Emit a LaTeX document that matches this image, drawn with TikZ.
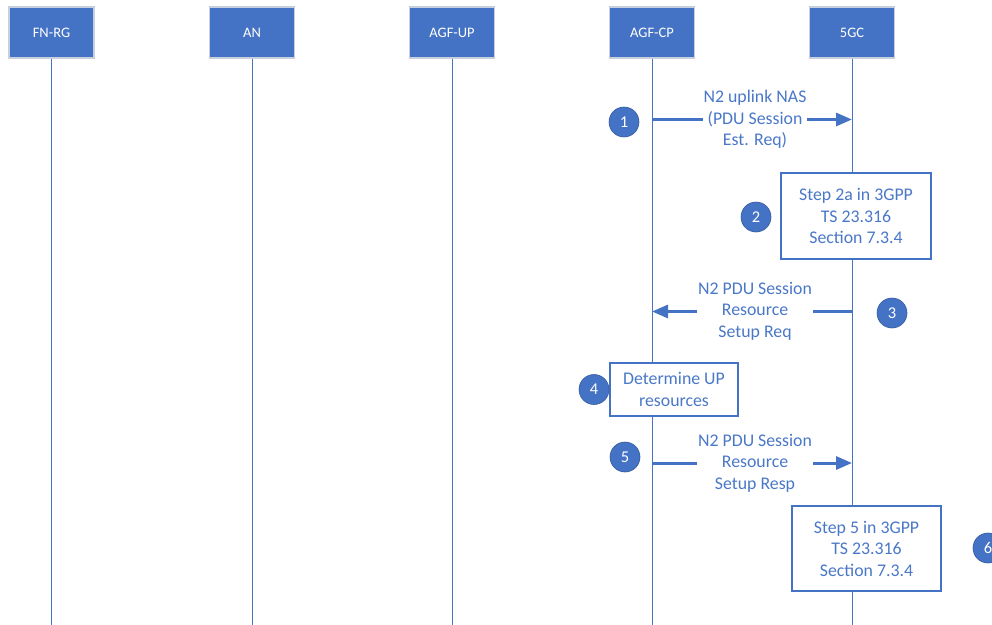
\documentclass[tikz,border=0pt]{standalone}
\usepackage{fontspec}
\setmainfont{Carlito}
\usetikzlibrary{arrows.meta}
\definecolor{vblue}{HTML}{4472C4}
\definecolor{tblue}{HTML}{4A78C8}
\definecolor{hborder}{RGB}{200,208,224}
\tikzset{
  header/.style={draw=hborder, line width=1.4pt, fill=vblue, text=white, minimum width=85pt, minimum height=51pt, inner sep=0pt, font=\fontsize{14.5}{17}\selectfont},
  lifeline/.style={draw=vblue, line width=1pt},
  msg/.style={draw=vblue, line width=3pt, -{Triangle[length=16pt,width=13pt]}},
  msgtext/.style={fill=white, text=tblue, align=center, inner sep=1pt, font=\fontsize{17.8}{21.5}\selectfont},
  stepbox/.style={draw=vblue, line width=1.2pt, fill=white, text=tblue, align=center, inner sep=0pt, font=\fontsize{17.8}{21.5}\selectfont},
  badge/.style={circle, fill=vblue, draw=vblue!80!black, line width=0.6pt, text=white, minimum size=30pt, inner sep=0pt, font=\fontsize{16.5}{18}\selectfont}
}
\begin{document}
\begin{tikzpicture}[x=1pt,y=-1pt]
\useasboundingbox (0,0) rectangle (992,624);
\clip (0,0) rectangle (992,624);
% headers
\node[header] (fnrg) at (51.5,32.5) {FN-RG};
\node[header] (an) at (252,32.5) {AN};
\node[header] (agfup) at (452,32.5) {AGF-UP};
\node[header] (agfcp) at (652,32.5) {AGF-CP};
\node[header] (fgc) at (852,32.5) {5GC};
% bottoms
\coordinate (fnrgb) at (51.5,630);
\coordinate (anb) at (252,630);
\coordinate (agfupb) at (452,630);
\coordinate (agfcpb) at (652,630);
\coordinate (fgcb) at (852,630);
\draw[lifeline] (fnrg.south) -- (fnrgb);
\draw[lifeline] (an.south) -- (anb);
\draw[lifeline] (agfup.south) -- (agfupb);
\draw[lifeline] (agfcp.south) -- (agfcpb);
\draw[lifeline] (fgc.south) -- (fgcb);
% message 1
\coordinate (m1a) at (652,119.5);
\coordinate (m1b) at (852,119.5);
\draw[msg] (m1a) -- (m1b);
\node[msgtext] (t1) at (755,119.5) {N2 uplink NAS\\(PDU Session\\Est. Req)};
\node[badge] (c1) at (624,122) {1};
% step 2 box
\node[stepbox, minimum width=150pt, minimum height=86pt] (b2) at (856,216) {Step 2a in 3GPP\\TS 23.316\\Section 7.3.4};
\node[badge] (c2) at (756,217) {2};
% message 3
\coordinate (m3a) at (852,311.5);
\coordinate (m3b) at (652,311.5);
\draw[msg] (m3a) -- (m3b);
\node[msgtext] (t3) at (755,311) {N2 PDU Session\\Resource\\Setup Req};
\node[badge] (c3) at (892,313) {3};
% step 4 box
\node[stepbox, minimum width=128pt, minimum height=53pt] (b4) at (674,389.5) {Determine UP\\resources};
\node[badge] (c4) at (594,389.5) {4};
% message 5
\coordinate (m5a) at (652,463);
\coordinate (m5b) at (852,463);
\draw[msg] (m5a) -- (m5b);
\node[msgtext] (t5) at (755,463) {N2 PDU Session\\Resource\\Setup Resp};
\node[badge] (c5) at (625,457) {5};
% step 6 box
\node[stepbox, minimum width=149pt, minimum height=85pt] (b6) at (866.5,548.5) {Step 5 in 3GPP\\TS 23.316\\Section 7.3.4};
\node[badge] (c6) at (988,548) {6};
\end{tikzpicture}
\end{document}
